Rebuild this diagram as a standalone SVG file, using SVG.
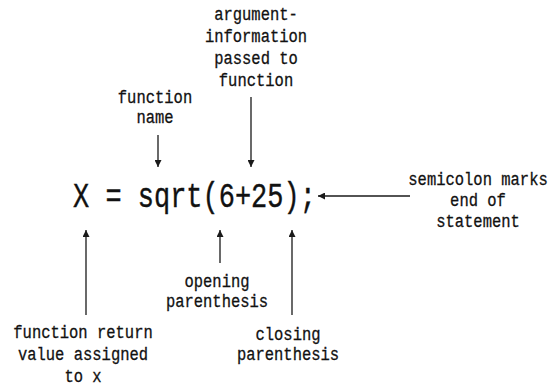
<svg xmlns="http://www.w3.org/2000/svg" width="550" height="388" viewBox="0 0 550 388">
<style>
.lbl{font-family:"Liberation Mono","DejaVu Sans Mono",monospace;font-size:15.5px;fill:#111;stroke:#111;stroke-width:0.25;text-anchor:middle}
.main{font-family:"Liberation Mono","DejaVu Sans Mono",monospace;font-size:27px;fill:#111;stroke:#111;stroke-width:0.3}
.ln{stroke:#1a1a1a;stroke-width:1.3;fill:none;marker-end:url(#ah)}
</style>
<defs>
<marker id="ah" viewBox="0 0 10 10" refX="10" refY="5" markerWidth="7" markerHeight="7" markerUnits="userSpaceOnUse" orient="auto">
<path d="M0,0 L10,5 L0,10 z" fill="#1a1a1a"/>
</marker>
</defs>
<g id="statement">
<text class="main" transform="translate(73,207) scale(1,1.33)">X = sqrt(6+25);</text>
</g>
<g id="argument">
<text class="lbl" transform="translate(256,20) scale(1,1.2)">argument-</text>
<text class="lbl" transform="translate(256,42) scale(1,1.2)">information</text>
<text class="lbl" transform="translate(256,64) scale(1,1.2)">passed to</text>
<text class="lbl" transform="translate(256,86) scale(1,1.2)">function</text>
</g>
<g id="function-name">
<text class="lbl" transform="translate(155,103) scale(1,1.2)">function</text>
<text class="lbl" transform="translate(155,123) scale(1,1.2)">name</text>
</g>
<g id="semicolon">
<text class="lbl" transform="translate(478,185) scale(1,1.2)">semicolon marks</text>
<text class="lbl" transform="translate(478,206) scale(1,1.2)">end of</text>
<text class="lbl" transform="translate(478,227) scale(1,1.2)">statement</text>
</g>
<g id="return-value">
<text class="lbl" transform="translate(83,338) scale(1,1.2)">function return</text>
<text class="lbl" transform="translate(83,360) scale(1,1.2)">value assigned</text>
<text class="lbl" transform="translate(83,382) scale(1,1.2)">to x</text>
</g>
<g id="opening">
<text class="lbl" transform="translate(217,287) scale(1,1.2)">opening</text>
<text class="lbl" transform="translate(217,307) scale(1,1.2)">parenthesis</text>
</g>
<g id="closing">
<text class="lbl" transform="translate(288,340) scale(1,1.2)">closing</text>
<text class="lbl" transform="translate(288,360) scale(1,1.2)">parenthesis</text>
</g>
<g id="connectors">
<line class="ln" x1="251" y1="97" x2="251" y2="167"/>
<line class="ln" x1="158" y1="135" x2="158" y2="167"/>
<line class="ln" x1="410" y1="196" x2="318" y2="196"/>
<line class="ln" x1="86" y1="315" x2="86" y2="230"/>
<line class="ln" x1="220" y1="263" x2="220" y2="230"/>
<line class="ln" x1="292" y1="315" x2="292" y2="230"/>
</g>
</svg>
